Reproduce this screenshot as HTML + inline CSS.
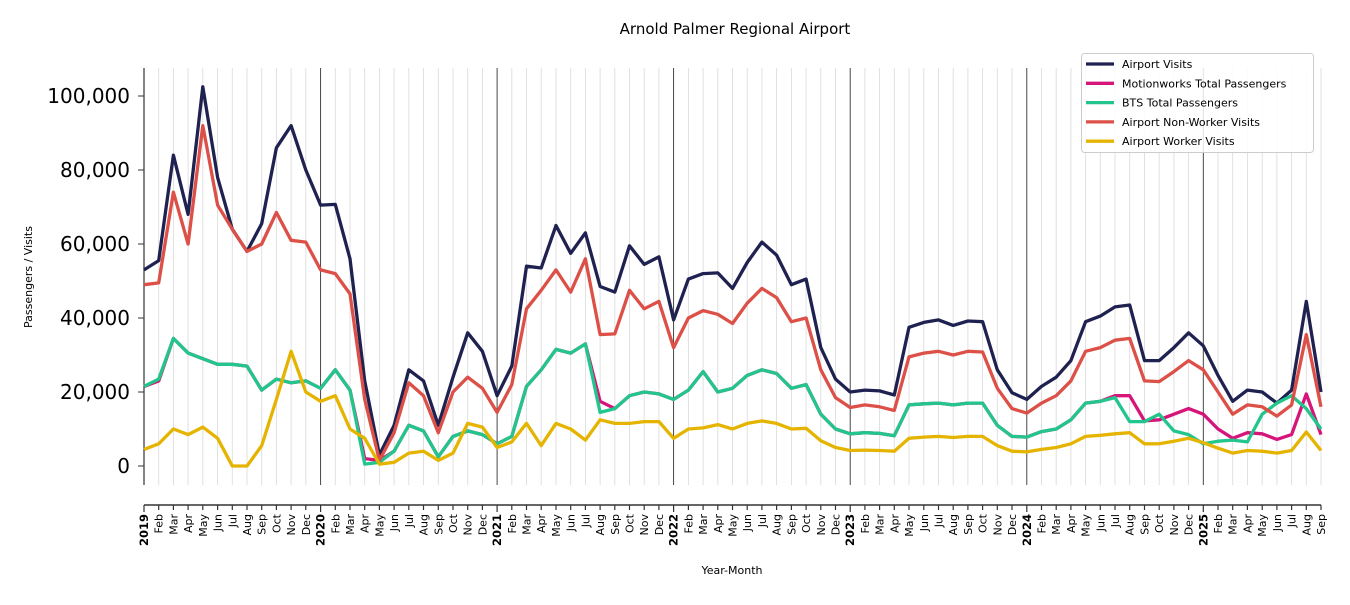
<!DOCTYPE html>
<html><head><meta charset="utf-8"><style>
body{margin:0;background:#fff;width:1350px;height:600px;overflow:hidden;font-family:"Liberation Sans","DejaVu Sans",sans-serif}
</style></head><body>
<svg id="c" width="1350" height="600" xmlns="http://www.w3.org/2000/svg" font-family="DejaVu Sans, Liberation Sans, sans-serif"></svg>
<script>
const av=[53,55.5,84,68,102.5,78,64,58,65.5,86,92,80, 70.5,70.7,56,23,3,11,26,23,11,24,36,31, 19,27,54,53.5,65,57.5,63,48.5,47,59.5,54.5,56.5, 39.5,50.5,52,52.2,48,55,60.5,57,49,50.5,32,23.5, 20,20.5,20.3,19.2,37.5,38.8,39.5,38,39.2,39,26,19.8, 18,21.5,24,28.5,39,40.5,43,43.5,28.5,28.5,32,36, 32.5,24.5,17.5,20.5,20,17,20.5,44.5,20];
const nw=[49,49.5,74,60,92,70.5,64,58,60,68.5,61,60.5, 53,52,46.5,18,1.5,9,22.5,19,9,20,24,21, 14.5,22,42.5,47.5,53,47,56,35.5,35.7,47.5,42.5,44.5, 32,40,42,41,38.5,44,48,45.5,39,40,26,18.5, 15.8,16.5,16,15,29.5,30.5,31,30,31,30.8,21,15.5, 14.3,17,19,23,31,32,34,34.5,23,22.8,25.5,28.5, 26,20,14,16.5,16,13.5,16.5,35.5,16];
const bts=[21.5,23.5,34.5,30.5,29,27.5,27.5,27,20.5,23.5,22.5,23, 21,26,20.5,0.5,1,4,11,9.5,2.5,8,9.5,8.5, 6,8,21.5,26,31.5,30.5,33,14.5,15.5,19,20,19.5, 18,20.5,25.5,20,21,24.5,26,25,21,22,14,10, 8.7,9,8.8,8.2,16.5,16.8,17,16.5,17,17,11,8, 7.8,9.3,10,12.5,17,17.5,18.5,12,12,14,9.5,8.5, 6,6.7,7,6.5,14,17,19,15.5,10];
const mw=bts.slice();
mw[1]=23;mw[15]=2;mw[16]=1.5;mw[31]=17.5;mw[32]=15.5;
[19,19,12.2,12.5,14,15.5,14,10,7.5,9,8.7,7.2,8.5,19.5,8.5].forEach((v,i)=>mw[66+i]=v);
const wk=[4.5,6,10,8.5,10.5,7.5,0,0,5.5,18,31,20, 17.5,19,10,7.5,0.5,1,3.5,4,1.5,3.5,11.5,10.5, 5,6.5,11.5,5.5,11.5,10,7,12.5,11.5,11.5,12,12, 7.5,10,10.3,11.2,10,11.5,12.2,11.5,10,10.2,6.8,5, 4.2,4.3,4.2,4,7.5,7.8,8,7.7,8,8,5.5,4, 3.8,4.5,5,6,8,8.3,8.7,9,6,6,6.7,7.5, 6.3,4.8,3.5,4.2,4,3.5,4.2,9.2,4.2];
const X=i=>144+i*1177/80, Y=v=>466-v*3.7;
let s='';
s+='<text x="735" y="34" font-size="15" text-anchor="middle">Arnold Palmer Regional Airport</text>';
const mn=['Jan','Feb','Mar','Apr','May','Jun','Jul','Aug','Sep','Oct','Nov','Dec'];
for(let i=0;i<81;i++){const x=X(i).toFixed(1);const yr=i%12==0;
 s+=`<line x1="${x}" y1="68" x2="${x}" y2="485" stroke="${yr?'#333':'#ddd'}" stroke-width="0.9"/>`;
 s+=`<line x1="${x}" y1="505" x2="${x}" y2="${yr?512:510}" stroke="#333" stroke-width="1.2"/>`;
 const lab=yr?(2019+i/12):mn[i%12];
 s+=`<text transform="translate(${(X(i)+4).toFixed(1)},514) rotate(-90)" font-size="${yr?11.5:11}" ${yr?'font-weight="bold"':''} text-anchor="end">${lab}</text>`;}
s+='<line x1="144" y1="68" x2="144" y2="485" stroke="#333" stroke-width="1.2"/>';
s+='<line x1="144" y1="505" x2="1321" y2="505" stroke="#333" stroke-width="1.5"/>';
for(let v=0;v<=100;v+=20){const y=Y(v);s+=`<line x1="138" y1="${y}" x2="144" y2="${y}" stroke="#333"/>`;
 s+=`<text x="130" y="${y+7}" font-size="20" text-anchor="end">${v?v+',000':'0'}</text>`;}
s+='<text transform="translate(32,277) rotate(-90)" font-size="11" text-anchor="middle">Passengers / Visits</text>';
s+='<text x="732" y="574" font-size="11" text-anchor="middle">Year-Month</text>';
const order=[[av,'#1f2150'],[mw,'#d6157b'],[bts,'#22c58b'],[nw,'#dc5048'],[wk,'#e5b400']];
for(const [d,c] of order){s+=`<polyline fill="none" stroke="${c}" stroke-width="3.3" stroke-linejoin="round" points="${d.map((v,i)=>X(i).toFixed(1)+','+Y(v).toFixed(1)).join(' ')}"/>`;}
s+='<rect x="1081.5" y="53.5" width="232" height="99" rx="3" fill="#fff" fill-opacity="0.85" stroke="#ccc"/>';
const names=['Airport Visits','Motionworks Total Passengers','BTS Total Passengers','Airport Non-Worker Visits','Airport Worker Visits'];
const cols=['#1f2150','#d6157b','#22c58b','#dc5048','#e5b400'];
names.forEach((n,k)=>{const y=64+k*19.3;s+=`<line x1="1086" y1="${y}" x2="1114" y2="${y}" stroke="${cols[k]}" stroke-width="3.3"/><text x="1122" y="${y+4}" font-size="11">${n}</text>`;});
document.getElementById('c').innerHTML=s;
</script>
</body></html>
